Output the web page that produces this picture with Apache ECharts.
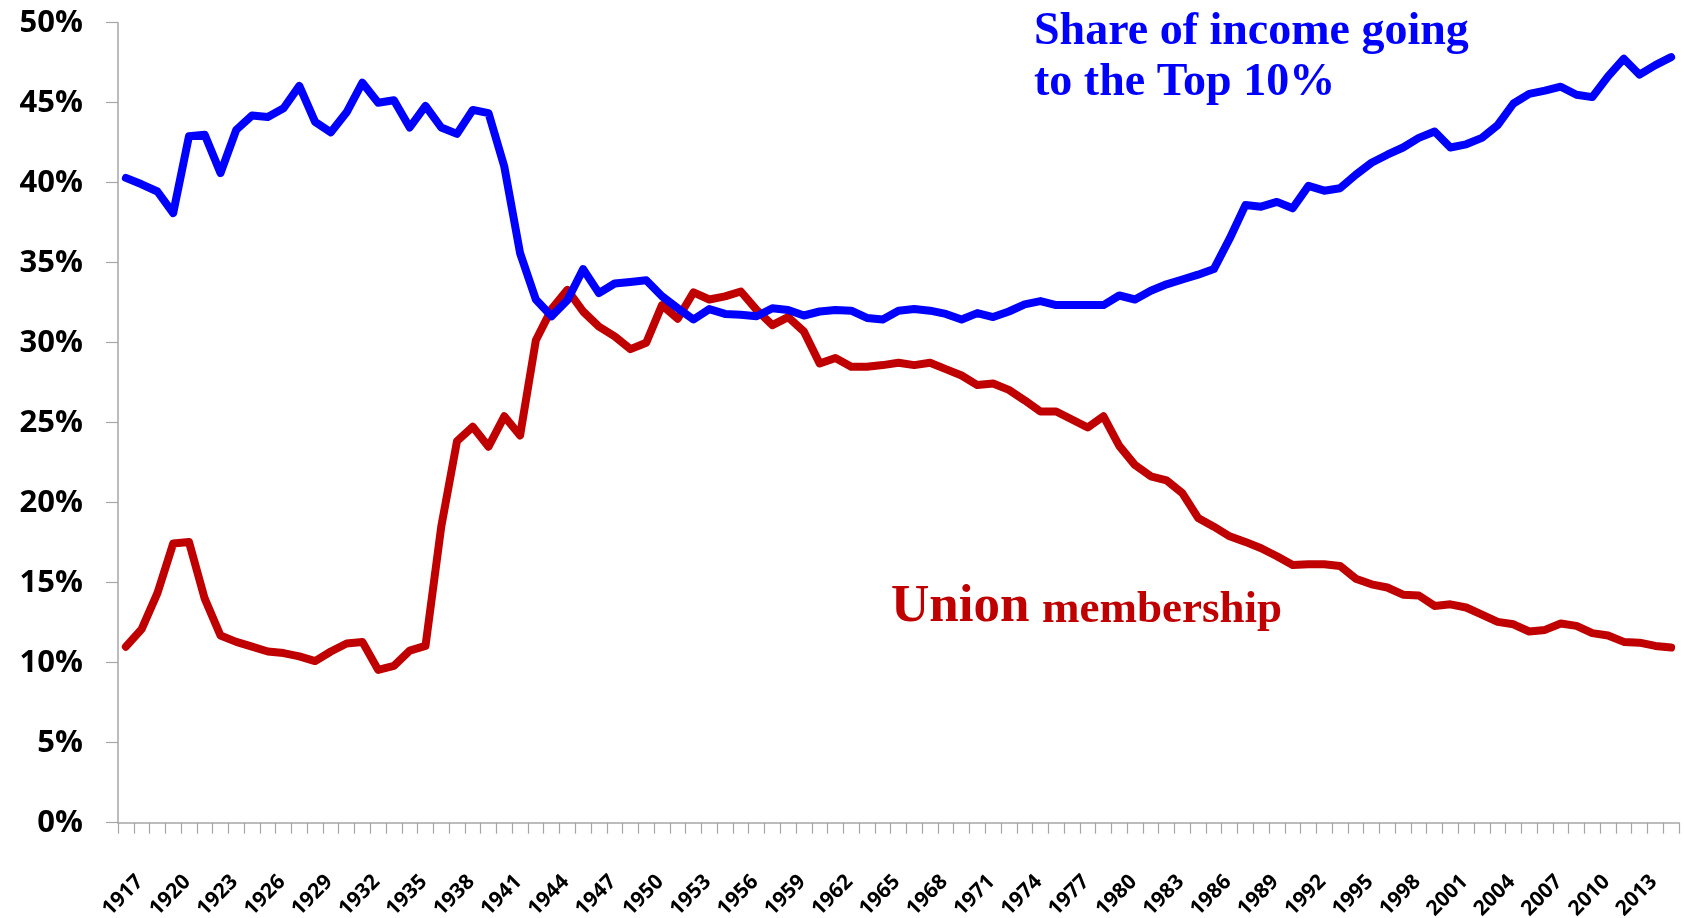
<!DOCTYPE html>
<html>
<head>
<meta charset="utf-8">
<script src="https://cdn.jsdelivr.net/npm/echarts@6/dist/echarts.min.js"></script>
<style>
html,body{margin:0;padding:0;background:#fff;}
#chart{width:1684px;height:918px;}
</style>
</head>
<body>
<div id="chart"></div>
<script>
var years = [
'1917','1918','1919','1920','1921','1922','1923','1924','1925','1926',
'1927','1928','1929','1930','1931','1932','1933','1934','1935','1936',
'1937','1938','1939','1940','1941','1942','1943','1944','1945','1946',
'1947','1948','1949','1950','1951','1952','1953','1954','1955','1956',
'1957','1958','1959','1960','1961','1962','1963','1964','1965','1966',
'1967','1968','1969','1970','1971','1972','1973','1974','1975','1976',
'1977','1978','1979','1980','1981','1982','1983','1984','1985','1986',
'1987','1988','1989','1990','1991','1992','1993','1994','1995','1996',
'1997','1998','1999','2000','2001','2002','2003','2004','2005','2006',
'2007','2008','2009','2010','2011','2012','2013','2014','2015'
];

var top10Share = [
40.3,39.9,39.45,38.1,42.9,43.0,40.6,43.3,44.2,44.1,
44.65,46.05,43.8,43.15,44.4,46.25,45.0,45.15,43.45,44.8,
43.45,43.05,44.55,44.35,41.0,35.6,32.7,31.65,32.65,34.6,
33.1,33.7,33.8,33.9,32.9,32.15,31.45,32.1,31.8,31.75,
31.65,32.15,32.05,31.7,31.95,32.05,32.0,31.55,31.45,32.0,
32.1,32.0,31.8,31.45,31.85,31.6,31.95,32.4,32.6,32.35,
32.35,32.35,32.35,32.95,32.7,33.25,33.65,33.95,34.25,34.6,
36.5,38.6,38.5,38.8,38.4,39.8,39.5,39.65,40.5,41.25,
41.75,42.2,42.8,43.2,42.2,42.4,42.8,43.6,44.95,45.55,
45.75,46.0,45.5,45.35,46.65,47.75,46.75,47.35,47.85
];

var unionMembership = [
11.0,12.1,14.35,17.45,17.55,14.0,11.7,11.3,11.0,10.7,
10.6,10.4,10.1,10.7,11.2,11.3,9.55,9.8,10.75,11.05,
18.5,23.85,24.75,23.5,25.4,24.2,30.15,32.1,33.3,31.95,
31.0,30.4,29.6,30.0,32.35,31.5,33.15,32.7,32.9,33.2,
32.05,31.1,31.6,30.7,28.7,29.05,28.5,28.5,28.6,28.75,
28.6,28.75,28.35,27.95,27.35,27.45,27.05,26.4,25.7,25.7,
25.2,24.7,25.4,23.55,22.35,21.65,21.4,20.6,19.05,18.5,
17.9,17.55,17.15,16.65,16.1,16.15,16.15,16.05,15.25,14.9,
14.7,14.25,14.2,13.55,13.65,13.45,13.0,12.55,12.4,11.95,
12.05,12.45,12.3,11.85,11.7,11.3,11.25,11.05,10.95
];

var yTicks = [0,5,10,15,20,25,30,35,40,45,50];

var chart = echarts.init(document.getElementById('chart'));
var axisGrey = '#A6A6A6';
chart.setOption({
  animation: false,
  backgroundColor: '#ffffff',
  grid: {left: 118, right: 5, top: 22.7, bottom: 95.3, containLabel: false, outerBoundsMode: 'none'},
  xAxis: {
    type: 'category',
    data: years,
    boundaryGap: true,
    axisLine: {show: true, lineStyle: {color: axisGrey, width: 1.5}},
    axisTick: {show: true, interval: 0, length: 11, lineStyle: {color: axisGrey, width: 1.2}},
    axisLabel: {
      interval: 2, rotate: 45, margin: 70, padding: [0, -20, 0, 0],
      color: '#000', fontFamily: 'Open Sans', fontWeight: 'bold', fontSize: 21
    },
    splitLine: {show: false}
  },
  yAxis: {
    type: 'value',
    min: yTicks[0], max: yTicks[yTicks.length - 1], interval: 5,
    axisLine: {show: true, lineStyle: {color: axisGrey, width: 1.5}},
    axisTick: {show: true, inside: false, length: 12, lineStyle: {color: axisGrey, width: 1.2}},
    axisLabel: {
      formatter: '{value}%', margin: 35,
      color: '#000', fontFamily: 'Open Sans', fontWeight: 'bold', fontSize: 31
    },
    splitLine: {show: false}
  },
  series: [
    {
      name: 'Share of income going to the Top 10%',
      type: 'line', data: top10Share, symbol: 'none', smooth: false,
      lineStyle: {color: '#0000FF', width: 8, cap: 'round', join: 'round'},
      z: 3
    },
    {
      name: 'Union membership',
      type: 'line', data: unionMembership, symbol: 'none', smooth: false,
      lineStyle: {color: '#C00000', width: 8, cap: 'round', join: 'round'},
      z: 2
    }
  ],
  graphic: [
    {type: 'text', left: 1034, top: 9, style: {text: 'Share of income going', fill: '#0000FF', font: 'bold 46px "Liberation Serif"'}},
    {type: 'text', left: 1034, top: 60, style: {text: 'to the Top 10%', fill: '#0000FF', font: 'bold 46px "Liberation Serif"'}},
    {type: 'text', left: 891, top: 581, style: {text: 'Union', fill: '#C00000', font: 'bold 53px "Liberation Serif"'}},
    {type: 'text', left: 1042, top: 588, style: {text: 'membership', fill: '#C00000', font: 'bold 45px "Liberation Serif"'}}
  ]
});
</script>
</body>
</html>
